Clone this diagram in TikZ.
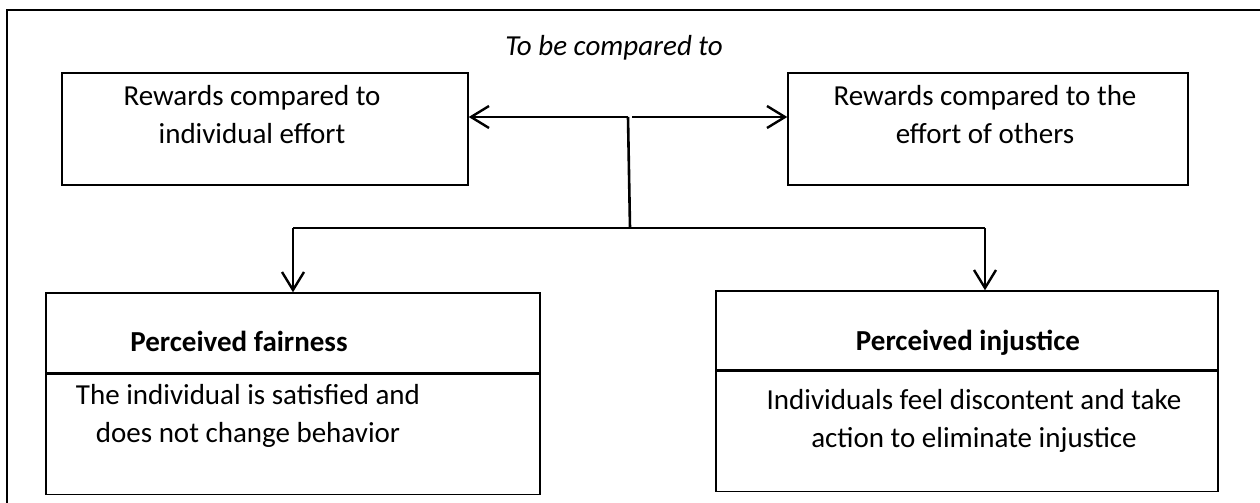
\documentclass[tikz,border=0pt]{standalone}
\usepackage{fontspec}
\setmainfont{Carlito}
\usetikzlibrary{arrows.meta}
\begin{document}
\begin{tikzpicture}[
    x=0.5pt, y=-0.5pt,
    panel/.style={draw, line width=0.7pt, inner sep=0pt},
    link/.style={line width=1.3pt},
    arr/.style={link, -{Straight Barb[length=9pt, width=11pt, line width=1.2pt]}},
    txt/.style={align=center, inner sep=0pt, anchor=base,
        font=\fontsize{14.5}{19}\selectfont},
    head/.style={txt, font=\fontsize{14.5}{19}\selectfont\bfseries},
  ]
  \useasboundingbox (0,0) rectangle (1260,503);
  % outer frame, open at right and bottom
  \draw[line width=0.9pt] (7,503) -- (7,10) -- (1260,10);

  \node[txt, font=\fontsize{14.5}{19}\selectfont\itshape] (cmp) at (614,55) {To be compared to};

  % upper boxes
  \node[panel, minimum width=203pt, minimum height=56pt] (indiv) at (265,129) {};
  \node[panel, minimum width=200pt, minimum height=56pt] (others) at (988,129) {};
  \node[txt] (indivtxt) at (252,143) {Rewards compared to\\individual effort};
  \node[txt] (otherstxt) at (985,143) {Rewards compared to the\\effort of others};

  % lower boxes
  \node[panel, minimum width=247pt, minimum height=40pt] (fairhead) at (293,333) {};
  \node[panel, minimum width=247pt, minimum height=60pt, anchor=north] (fairbody) at (fairhead.south) {};
  \node[panel, minimum width=251pt, minimum height=39.5pt] (injhead) at (967,330.5) {};
  \node[panel, minimum width=251pt, minimum height=60pt, anchor=north] (injbody) at (injhead.south) {};

  \node[head] (fairtitle) at (239,351) {Perceived fairness};
  \node[txt] (fairtxt) at (248,442) {The individual is satisfied and\\does not change behavior};
  \node[head] (injtitle) at (968,350) {Perceived injustice};
  \node[txt] (injtxt) at (974,447) {Individuals feel discontent and take\\action to eliminate injustice};

  % connectors
  \coordinate (mid) at (628,117);
  \coordinate (split) at (630,228);
  \coordinate (lturn) at (293,228);
  \coordinate (rturn) at (985,228);

  \draw[arr] (mid) -- (mid -| indiv.east);
  \draw[arr] ([xshift=2pt]mid) -- (mid -| others.west);
  \draw[link] (mid) -- (split);
  \draw[line width=0.8pt] (lturn) -- (rturn);
  \draw[arr] (lturn) -- (lturn |- fairhead.north);
  \draw[arr] (rturn) -- (rturn |- injhead.north);
\end{tikzpicture}
\end{document}
